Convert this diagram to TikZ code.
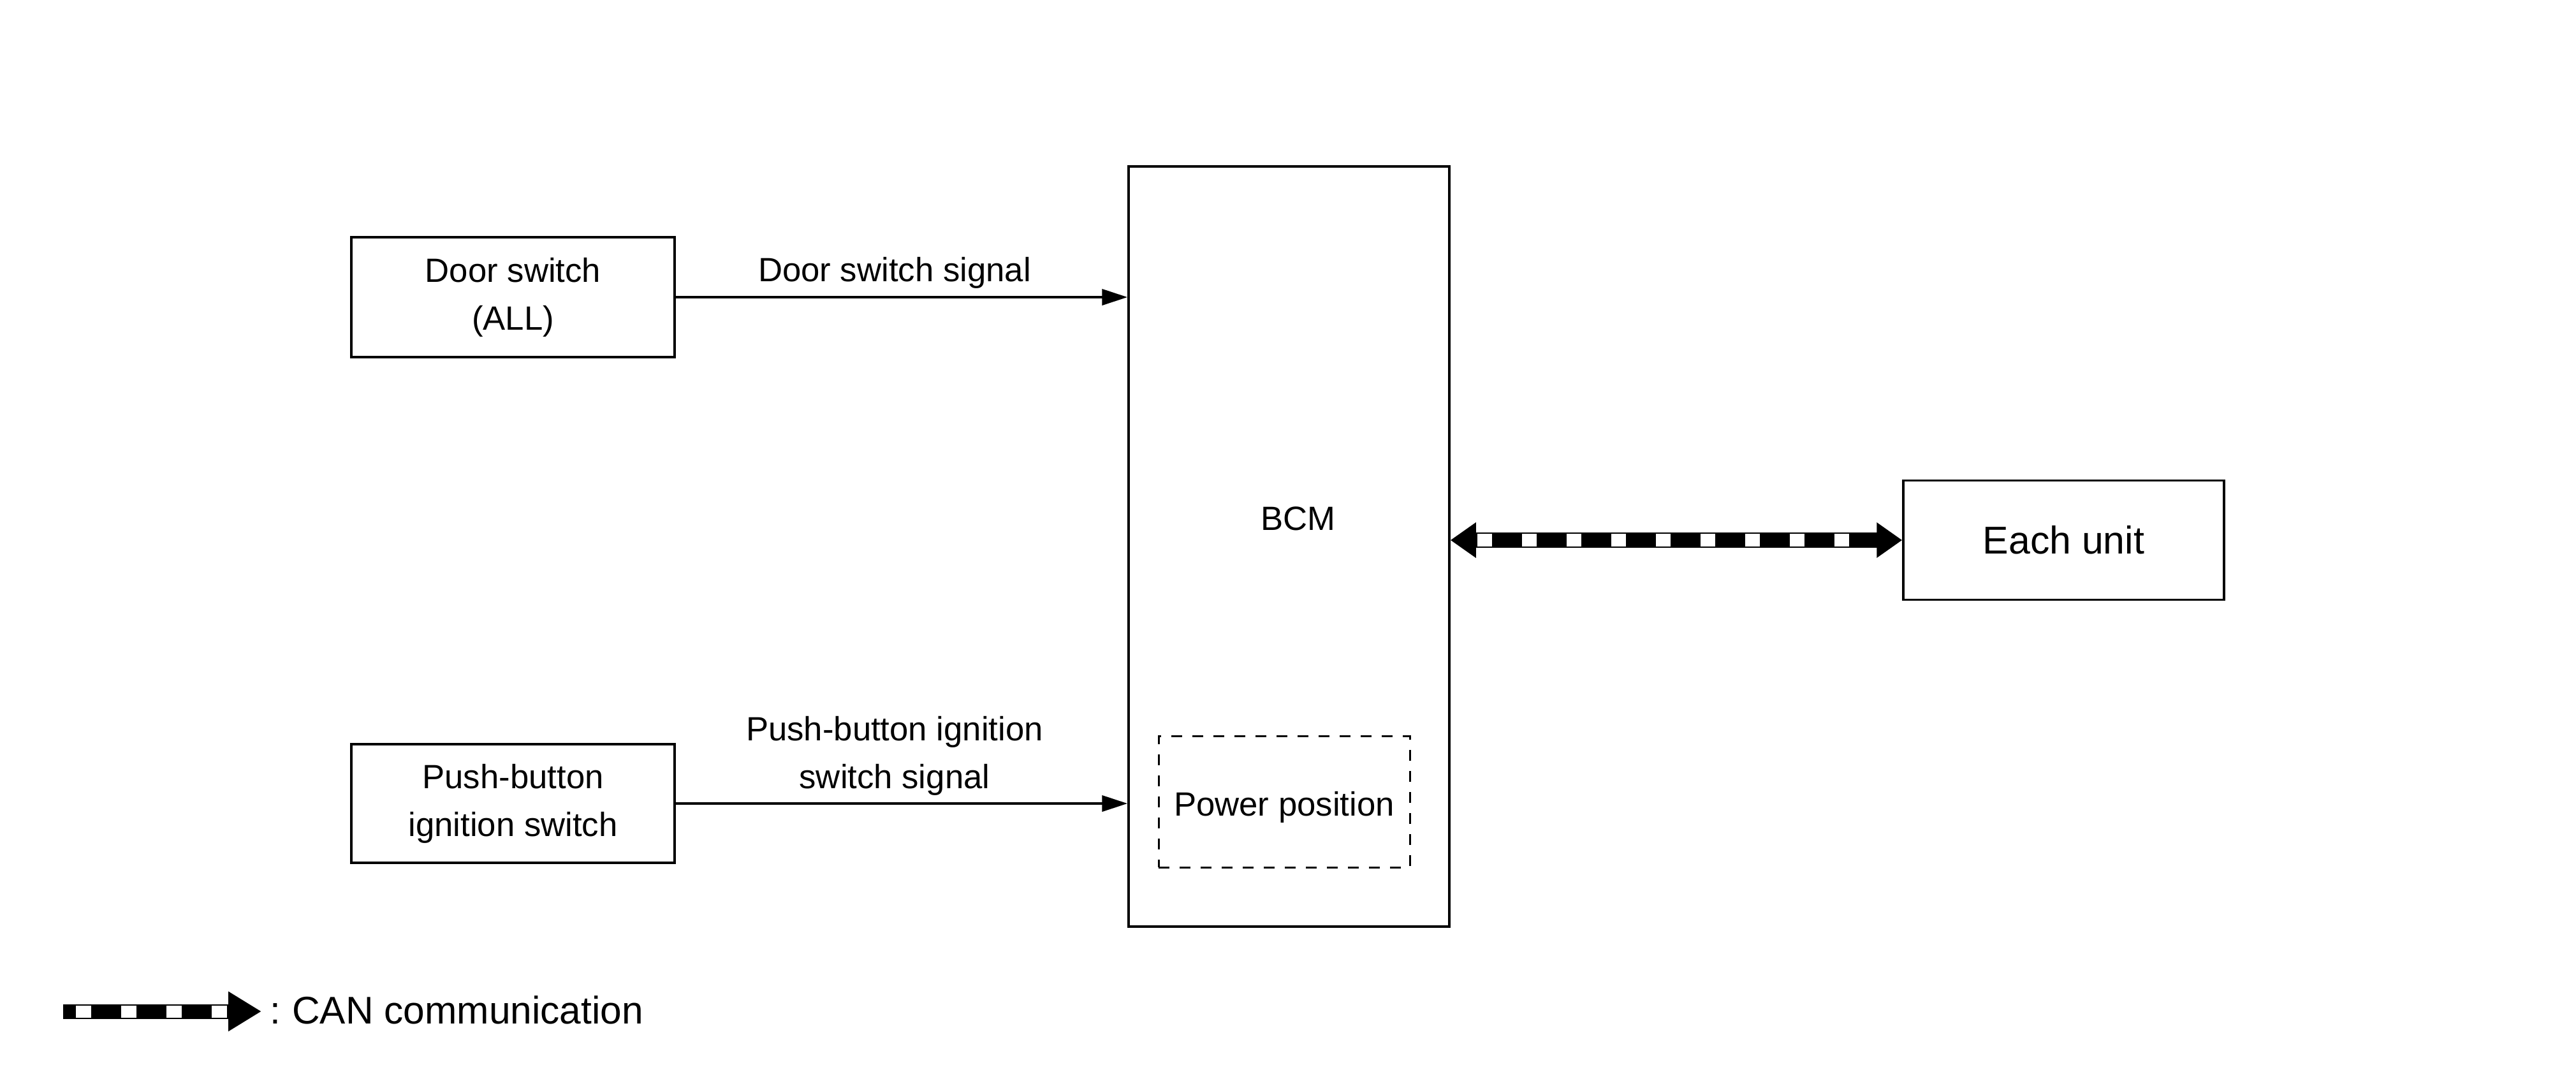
\documentclass[tikz,border=0pt]{standalone}
\usepackage{fontspec}
\setmainfont{Liberation Sans}
\usetikzlibrary{arrows.meta}

\begin{document}
\begin{tikzpicture}[
  box/.style={draw, line width=0.035cm, align=center, inner sep=0pt, font=\fontsize{15}{21.3}\selectfont},
  txt/.style={align=center, inner sep=0pt, font=\fontsize{15}{21.3}\selectfont},
  sig/.style={line width=0.04cm, -{Triangle[length=0.4cm,width=0.25cm]}},
  canbar/.style={line width=0.24cm, {Triangle[length=0.4cm,width=0.53cm]}-{Triangle[length=0.4cm,width=0.53cm]}},
  cansq/.style={white, line width=0.2cm, dash pattern=on 0.23cm off 0.47cm}
]
\useasboundingbox (0,0) rectangle (40.4,-17.02);

\node[box, minimum width=5.07cm, minimum height=1.88cm] (door) at (8.045,-4.66) {Door switch\\(ALL)};
\node[box, minimum width=5.07cm, minimum height=1.86cm] (push) at (8.045,-12.60) {Push-button\\ignition switch};

\node[box, minimum width=5.03cm, minimum height=11.92cm] (bcm) at (20.215,-8.57) {};
\node[txt] (bcmlabel) at (20.36,-8.13) {BCM};
\node[box, line width=0.03cm, dash pattern=on 0.17cm off 0.16cm, text height=13pt, text depth=0pt, minimum width=3.94cm, minimum height=2.06cm] (power) at (20.14,-12.57) {Power position};

\node[box, minimum width=5.03cm, minimum height=1.87cm, font=\fontsize{17.3}{20}\selectfont] (unit) at (32.365,-8.47) {Each unit};

\draw[sig] (door.east) -- (door.east -| bcm.west);
\draw[sig] (push.east) -- (push.east -| bcm.west);
\node[txt] (doorsig) at (14.03,-4.28) {Door switch signal};
\node[txt] (pushsig) at (14.03,-11.855) {Push-button ignition\\switch signal};

\coordinate (canl) at (bcm.east |- unit.west);
\draw[canbar] (canl) -- (unit.west);
\draw[cansq] ([xshift=0.42cm]canl) -- ([xshift=-0.83cm]unit.west);

\coordinate (legs) at (0.99,-15.86);
\coordinate (lege) at (4.10,-15.86);
\draw[line width=0.23cm, -{Triangle[length=0.52cm,width=0.59cm]}] (legs) -- (lege);
\draw[white, line width=0.19cm, dash pattern=on 0.24cm off 0.47cm] ([xshift=0.2cm]legs) -- ([xshift=-0.54cm]lege);
\node[anchor=west, inner sep=0pt, font=\fontsize{17.2}{20}\selectfont] (legtext) at (4.23,-15.84) {:\hspace{-0.08em} CAN communication};
\end{tikzpicture}
\end{document}
